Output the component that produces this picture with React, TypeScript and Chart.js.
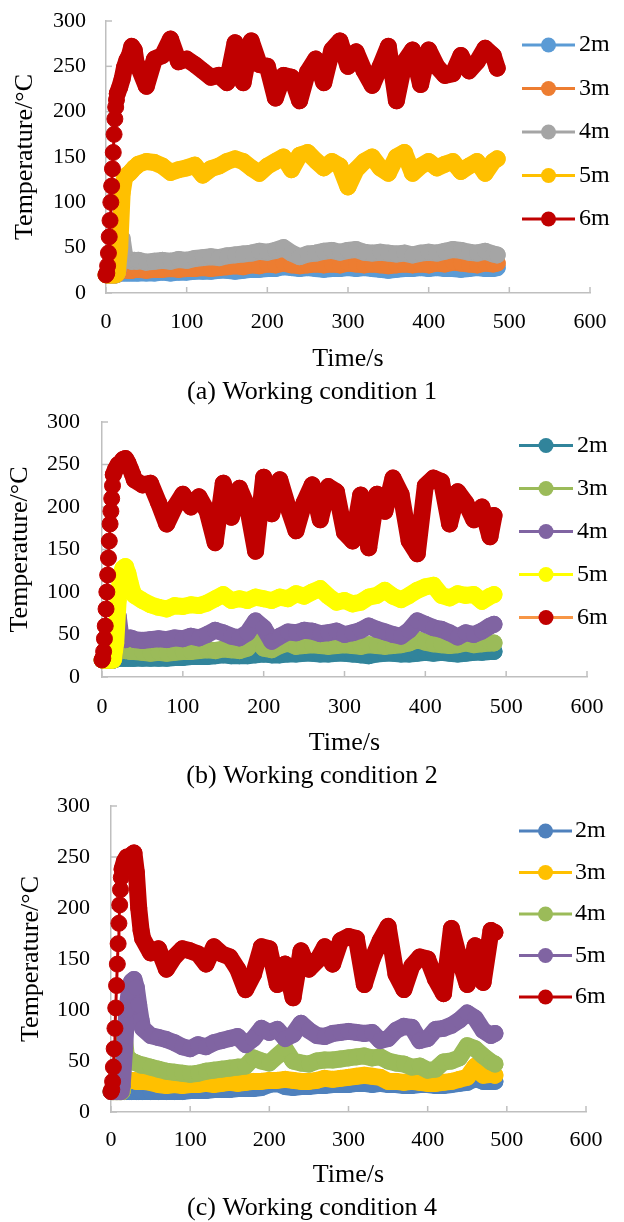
import React, { useEffect, useRef } from "react";
import { Chart, registerables } from "chart.js";

Chart.register(...registerables);

const FONT = '"Liberation Serif", "Times New Roman", Times, serif';

// time axis (s)
const timeSec = [
  0, 1, 2, 3, 4, 5, 6, 7, 8, 9, 10, 11, 12, 13, 14,
  17, 20, 23, 26, 29, 32, 35, 38,
  40, 50, 60, 70, 80, 90, 100, 110, 120, 130, 140, 150, 160, 170, 180, 190, 200,
  210, 220, 230, 240, 250, 260, 270, 280, 290, 300, 310, 320, 330, 340, 350, 360,
  370, 380, 390, 400, 410, 420, 430, 440, 450, 460, 470, 480,
  485,
];

const depthLabels = ["2m", "3m", "4m", "5m", "6m"];

// (a) Working condition 1
const cond1_2m = [
  20, 20, 20, 20, 20, 20, 20, 20, 20, 20, 20, 20, 20, 20, 21,
  22, 22, 22, 22, 22, 22, 22, 22,
  22, 22, 22, 23, 22, 23, 23, 24, 24, 24, 25, 25, 24, 25, 26, 26, 27, 27, 29, 28, 27, 28, 27, 26, 27, 27, 28, 27, 28, 27, 26, 25, 26, 27, 27, 28, 27, 28, 27, 27, 26, 27, 28, 27, 27,
  28,
];
const cond1_3m = [
  20, 20, 20, 20, 20, 20, 20, 20, 20, 20, 20, 20, 20, 20, 21,
  24, 26, 26, 25, 25, 25, 26, 26,
  26, 25, 26, 26, 27, 26, 27, 27, 28, 27, 28, 29, 30, 29, 31, 30, 32, 31, 33, 31, 30, 31, 32, 31, 32, 31, 33, 32, 31, 32, 31, 30, 31, 32, 31, 32, 31, 33, 32, 34, 33, 32, 31, 33, 32,
  33,
];
const cond1_4m = [
  20, 20, 20, 20, 20, 20, 20, 20, 20, 20, 20, 20, 20, 20, 22,
  35, 60, 42, 38, 36, 35, 36, 35,
  36, 34, 35, 36, 35, 37, 36, 38, 39, 40, 39, 41, 42, 43, 44, 46, 45, 47, 50, 44, 40, 43, 44, 46, 47, 45, 47, 48, 45, 44, 45, 44, 43, 44, 42, 44, 45, 44, 46, 48, 47, 45, 44, 46, 43,
  42,
];
const cond1_5m = [
  20, 20, 20, 20, 20, 20, 20, 20, 20, 20, 20, 20, 20, 21, 22,
  50, 110, 127, 130, 132, 135, 138, 140,
  142, 145, 144, 140, 133, 136, 138, 141, 130, 137, 140, 145, 148, 145, 138, 132, 140, 145, 150, 136, 152, 155, 146, 138, 145, 140, 117, 136, 145, 150, 138, 132, 150, 155, 132, 140, 145, 138, 142, 145, 134, 140, 145, 132, 145,
  148,
];
const cond1_6m = [
  20, 22, 30, 44, 62, 80, 100, 118, 137, 155, 175, 192, 205, 213, 220,
  227, 236, 249, 257, 262, 272, 268, 250,
  250, 228, 258, 262, 280, 255, 258, 252, 245, 238, 240, 232, 276, 232, 278, 252, 250, 215, 240, 238, 212, 244, 258, 232, 268, 278, 250, 266, 245, 229, 250, 272, 212, 255, 268, 230, 268, 250, 240, 242, 262, 245, 255, 270, 262,
  248,
];

// (b) Working condition 2
const cond2_2m = [
  20, 20, 20, 20, 20, 20, 20, 20, 20, 20, 20, 20, 20, 20, 20,
  21, 22, 22, 22, 22, 22, 22, 22,
  22, 22, 22, 22, 22, 23, 23, 24, 24, 24, 25, 26, 25, 25, 25, 26, 27, 26, 26, 27, 27, 28, 28, 27, 27, 28, 28, 27, 26, 25, 27, 28, 28, 27, 27, 28, 29, 28, 29, 28, 27, 28, 29, 29, 30,
  30,
];
const cond2_3m = [
  20, 20, 20, 20, 20, 20, 20, 20, 20, 20, 20, 20, 20, 20, 20,
  28, 34, 33, 32, 31, 31, 30, 30,
  30, 29, 28, 29, 28, 29, 30, 30, 31, 32, 31, 33, 32, 31, 34, 46, 34, 32, 37, 40, 36, 37, 38, 37, 36, 37, 38, 37, 36, 38, 37, 36, 37, 38, 40, 44, 41, 39, 38, 37, 38, 40, 38, 39, 40,
  40,
];
const cond2_4m = [
  20, 20, 20, 20, 20, 20, 20, 20, 20, 20, 20, 20, 20, 20, 20,
  40, 72, 50, 46, 44, 45, 46, 45,
  44, 43, 44, 45, 44, 46, 45, 48, 46, 50, 55, 52, 48, 46, 52, 66, 58, 42, 48, 53, 52, 55, 54, 51, 52, 54, 50, 52, 55, 60, 56, 53, 50, 48, 55, 66, 62, 58, 56, 52, 47, 52, 50, 54, 60,
  62,
];
const cond2_5m = [
  20, 20, 20, 20, 20, 20, 20, 20, 20, 20, 20, 20, 20, 20, 20,
  40, 90, 120, 128, 130, 122, 110, 100,
  96, 90, 85, 82, 80, 84, 83, 85, 84, 87, 92, 97, 90, 92, 90, 94, 92, 90, 94, 92, 98, 95, 100, 104, 95, 88, 90, 86, 88, 94, 96, 102, 95, 91, 96, 102, 106, 108, 96, 93, 98, 96, 97, 89, 95,
  97,
];
const cond2_6m = [
  20, 22, 30, 45, 60, 80, 100, 120, 140, 160, 180, 195, 210, 225, 238,
  245, 250, 252, 256, 257, 252, 245, 238,
  232, 226, 228, 205, 180, 200, 215, 200, 212, 195, 158, 228, 188, 222, 200, 148, 235, 192, 232, 200, 172, 205, 226, 185, 224, 218, 170, 160, 214, 152, 215, 195, 234, 215, 160, 145, 225, 234, 230, 180, 218, 205, 185, 200, 165,
  190,
];

// (c) Working condition 4
const cond4_2m = [
  20, 20, 20, 20, 20, 20, 20, 20, 20, 20, 20, 20, 20, 20, 20,
  20, 20, 20, 20, 20, 20, 20, 20,
  20, 20, 20, 20, 20, 20, 21, 21, 21, 22, 22, 22, 23, 23, 23, 24, 27, 28, 25, 24, 25, 25, 26, 26, 27, 27, 27, 28, 28, 27, 28, 27, 27, 26, 26, 27, 27, 26, 26, 27, 28, 29, 33, 30, 30,
  30,
];
const cond4_3m = [
  20, 20, 20, 20, 20, 20, 20, 20, 20, 20, 20, 20, 20, 20, 20,
  32, 32, 31, 31, 31, 30, 30, 30,
  30, 29, 27, 26, 27, 26, 27, 27, 28, 27, 28, 29, 28, 29, 30, 30, 31, 31, 32, 31, 30, 30, 31, 33, 32, 33, 34, 35, 36, 35, 34, 30, 30, 29, 30, 29, 28, 28, 29, 30, 32, 34, 45, 36, 37,
  36,
];
const cond4_4m = [
  20, 20, 20, 20, 20, 20, 20, 20, 20, 20, 20, 20, 20, 20, 20,
  72, 50, 52, 50, 49, 48, 47, 46,
  46, 44, 42, 40, 39, 38, 37, 38, 40, 41, 42, 43, 44, 45, 53, 50, 48, 55, 62, 50, 48, 47, 50, 51, 51, 52, 53, 54, 55, 53, 54, 50, 48, 47, 44, 45, 41, 42, 49, 50, 53, 65, 62, 55, 49,
  47,
];
const cond4_5m = [
  20, 20, 20, 20, 20, 20, 20, 20, 20, 20, 20, 20, 20, 20, 25,
  60, 100, 118, 128, 130, 122, 105, 90,
  82, 75, 73, 71, 68, 64, 62, 66, 64, 68, 70, 72, 74, 66, 72, 82, 78, 81, 72, 76, 87, 80, 75, 74, 77, 78, 79, 78, 77, 78, 70, 72, 80, 84, 83, 70, 72, 81, 82, 85, 90, 97, 92, 80, 75,
  77,
];
const cond4_6m = [
  20, 22, 30, 44, 62, 82, 102, 124, 145, 165, 185, 203, 218, 230, 238,
  246, 250, 248, 252, 254, 235, 200, 178,
  170, 156, 160, 140, 152, 160, 158, 155, 145, 162, 155, 152, 140, 120, 135, 162, 160, 125, 145, 112, 158, 140, 148, 162, 145, 168, 172, 170, 125, 150, 168, 182, 135, 120, 143, 152, 150, 130, 116, 180, 150, 125, 163, 127, 178,
  176,
];

type PanelCfg = {
  top: number;
  height: number;
  area: { left: number; right: number; top: number; bottom: number };
  series: number[][];
  colors: string[];
  legendLineColors: string[];
  caption: string;
  captionY: number;
  legend: { x0: number; x1: number; textX: number; y0: number; dy: number };
  yTickPad: number;
  xTickPad: number;
  yTitleX: number;
  xTitleY: number;
};

const panels: PanelCfg[] = [
  {
    top: 0,
    height: 405,
    area: { left: 106, right: 590, top: 21, bottom: 293 },
    series: [cond1_2m, cond1_3m, cond1_4m, cond1_5m, cond1_6m],
    colors: ["#5B9BD5", "#ED7D31", "#A5A5A5", "#FFC000", "#C00000"],
    legendLineColors: ["#5B9BD5", "#ED7D31", "#A5A5A5", "#FFC000", "#C00000"],
    caption: "(a) Working condition 1",
    captionY: 392,
    legend: { x0: 522, x1: 575, textX: 579, y0: 45, dy: 43.5 },
    yTickPad: 20,
    xTickPad: 16.3,
    yTitleX: 25,
    xTitleY: 359,
  },
  {
    top: 405,
    height: 385,
    area: { left: 102, right: 587, top: 17, bottom: 272 },
    series: [cond2_2m, cond2_3m, cond2_4m, cond2_5m, cond2_6m],
    colors: ["#31849B", "#9BBB59", "#8064A2", "#FFFF00", "#C00000"],
    legendLineColors: ["#31849B", "#9BBB59", "#8064A2", "#FFFF00", "#F79646"],
    caption: "(b) Working condition 2",
    captionY: 371,
    legend: { x0: 519, x1: 573, textX: 577, y0: 40.5, dy: 43 },
    yTickPad: 22,
    xTickPad: 17.3,
    yTitleX: 20.5,
    xTitleY: 338,
  },
  {
    top: 790,
    height: 432,
    area: { left: 111, right: 586, top: 16, bottom: 322 },
    series: [cond4_2m, cond4_3m, cond4_4m, cond4_5m, cond4_6m],
    colors: ["#4F81BD", "#FFC000", "#9BBB59", "#8064A2", "#C00000"],
    legendLineColors: ["#4F81BD", "#FFC000", "#9BBB59", "#8064A2", "#C00000"],
    caption: "(c) Working condition 4",
    captionY: 418,
    legend: { x0: 519, x1: 572, textX: 575, y0: 41, dy: 41.5 },
    yTickPad: 21,
    xTickPad: 14.8,
    yTitleX: 31,
    xTitleY: 385,
  },
];

const AXIS_COLOR = "#BFBFBF";

function Panel({ cfg }: { cfg: PanelCfg }) {
  const ref = useRef<HTMLCanvasElement>(null);

  useEffect(() => {
    const canvas = ref.current;
    if (!canvas) return;
    const W = 624;
    const titleHalf = (26 * 1.2) / 2;
    const scaleBottom = cfg.xTitleY + titleHalf;
    const xScaleHeight = scaleBottom - cfg.area.bottom;

    const datasets = cfg.series.map((vals, i) => ({
      label: depthLabels[i],
      data: timeSec.map((t, j) => ({ x: t, y: vals[j] })),
      borderColor: cfg.colors[i],
      backgroundColor: cfg.colors[i],
      pointBackgroundColor: cfg.colors[i],
      pointBorderColor: cfg.colors[i],
      pointBorderWidth: 1,
      pointRadius: 8,
      pointHoverRadius: 8,
      borderWidth: 17,
      borderJoinStyle: "round",
      borderCapStyle: "round",
      segment: {
        // dense 1 s samples show the thin connecting line between the markers
        borderWidth: (ctx: any) =>
          ctx.p1.parsed.x - ctx.p0.parsed.x <= 1 ? 3 : 17,
      },
      tension: 0,
      order: 5 - i,
      clip: false as any,
    }));

    const innerTicks = {
      id: "innerTicks",
      beforeDatasetsDraw(chart: any) {
        const { ctx, chartArea, scales } = chart;
        ctx.save();
        ctx.strokeStyle = AXIS_COLOR;
        ctx.lineWidth = 1.5;
        scales.x.ticks.forEach((tk: any) => {
          const px = scales.x.getPixelForValue(tk.value);
          ctx.beginPath();
          ctx.moveTo(px, chartArea.bottom);
          ctx.lineTo(px, chartArea.bottom - 6);
          ctx.stroke();
        });
        scales.y.ticks.forEach((tk: any) => {
          const py = scales.y.getPixelForValue(tk.value);
          ctx.beginPath();
          ctx.moveTo(chartArea.left, py);
          ctx.lineTo(chartArea.left + 6, py);
          ctx.stroke();
        });
        ctx.restore();
      },
    };

    const legendAndCaption = {
      id: "legendAndCaption",
      afterDraw(chart: any) {
        const ctx = chart.ctx;
        const lg = cfg.legend;
        ctx.save();
        chart.data.datasets.forEach((ds: any, i: number) => {
          const y = lg.y0 + i * lg.dy;
          ctx.strokeStyle = cfg.legendLineColors[i];
          ctx.lineWidth = 3;
          ctx.beginPath();
          ctx.moveTo(lg.x0, y);
          ctx.lineTo(lg.x1, y);
          ctx.stroke();
          ctx.fillStyle = ds.pointBackgroundColor;
          ctx.beginPath();
          ctx.arc((lg.x0 + lg.x1) / 2, y, 7.5, 0, Math.PI * 2);
          ctx.fill();
          ctx.fillStyle = "#000";
          ctx.font = `24px ${FONT}`;
          ctx.textAlign = "left";
          ctx.textBaseline = "middle";
          ctx.fillText(ds.label, lg.textX, y);
        });
        ctx.fillStyle = "#000";
        ctx.font = `26px ${FONT}`;
        ctx.textAlign = "center";
        ctx.textBaseline = "middle";
        ctx.fillText(cfg.caption, 312, cfg.captionY);
        ctx.restore();
      },
    };

    const chart = new Chart(canvas, {
      type: "line",
      data: { datasets: datasets as any },
      options: {
        responsive: false,
        animation: false,
        devicePixelRatio: 1,
        events: [],
        layout: {
          padding: {
            left: 0,
            right: W - cfg.area.right,
            top: cfg.area.top,
            bottom: cfg.height - scaleBottom,
          },
        },
        plugins: {
          legend: { display: false },
          tooltip: { enabled: false },
          title: { display: false },
        },
        scales: {
          x: {
            type: "linear",
            min: 0,
            max: 600,
            ticks: {
              stepSize: 100,
              padding: 0,
              color: "#000",
              font: { family: FONT, size: 22 },
              maxRotation: 0,
              autoSkip: false,
            },
            grid: { display: false, drawTicks: true, tickLength: cfg.xTickPad },
            border: { display: true, color: AXIS_COLOR, width: 1.5 },
            title: {
              display: true,
              text: "Time/s",
              color: "#000",
              font: { family: FONT, size: 26, lineHeight: 1.2 },
              padding: 0,
            },
            afterFit: (s: any) => {
              s.height = xScaleHeight;
            },
          },
          y: {
            min: 0,
            max: 300,
            ticks: {
              stepSize: 50,
              padding: 0,
              color: "#000",
              font: { family: FONT, size: 22 },
            },
            grid: { display: false, drawTicks: true, tickLength: cfg.yTickPad },
            border: { display: true, color: AXIS_COLOR, width: 1.5 },
            title: {
              display: true,
              text: "Temperature/°C",
              color: "#000",
              font: { family: FONT, size: 26, lineHeight: 1.2 },
              padding: { top: cfg.yTitleX - titleHalf, bottom: 0 },
            },
            afterFit: (s: any) => {
              s.width = cfg.area.left;
            },
          },
        },
      } as any,
      plugins: [innerTicks, legendAndCaption],
    });

    return () => chart.destroy();
  }, [cfg]);

  return (
    <canvas
      ref={ref}
      width={624}
      height={cfg.height}
      style={{
        position: "absolute",
        left: 0,
        top: cfg.top,
        width: 624,
        height: cfg.height,
        display: "block",
      }}
    />
  );
}

export default function App() {
  return (
    <div
      style={{
        position: "absolute",
        left: 0,
        top: 0,
        width: 624,
        height: 1222,
        background: "#fff",
      }}
    >
      {panels.map((p, i) => (
        <Panel key={i} cfg={p} />
      ))}
    </div>
  );
}
